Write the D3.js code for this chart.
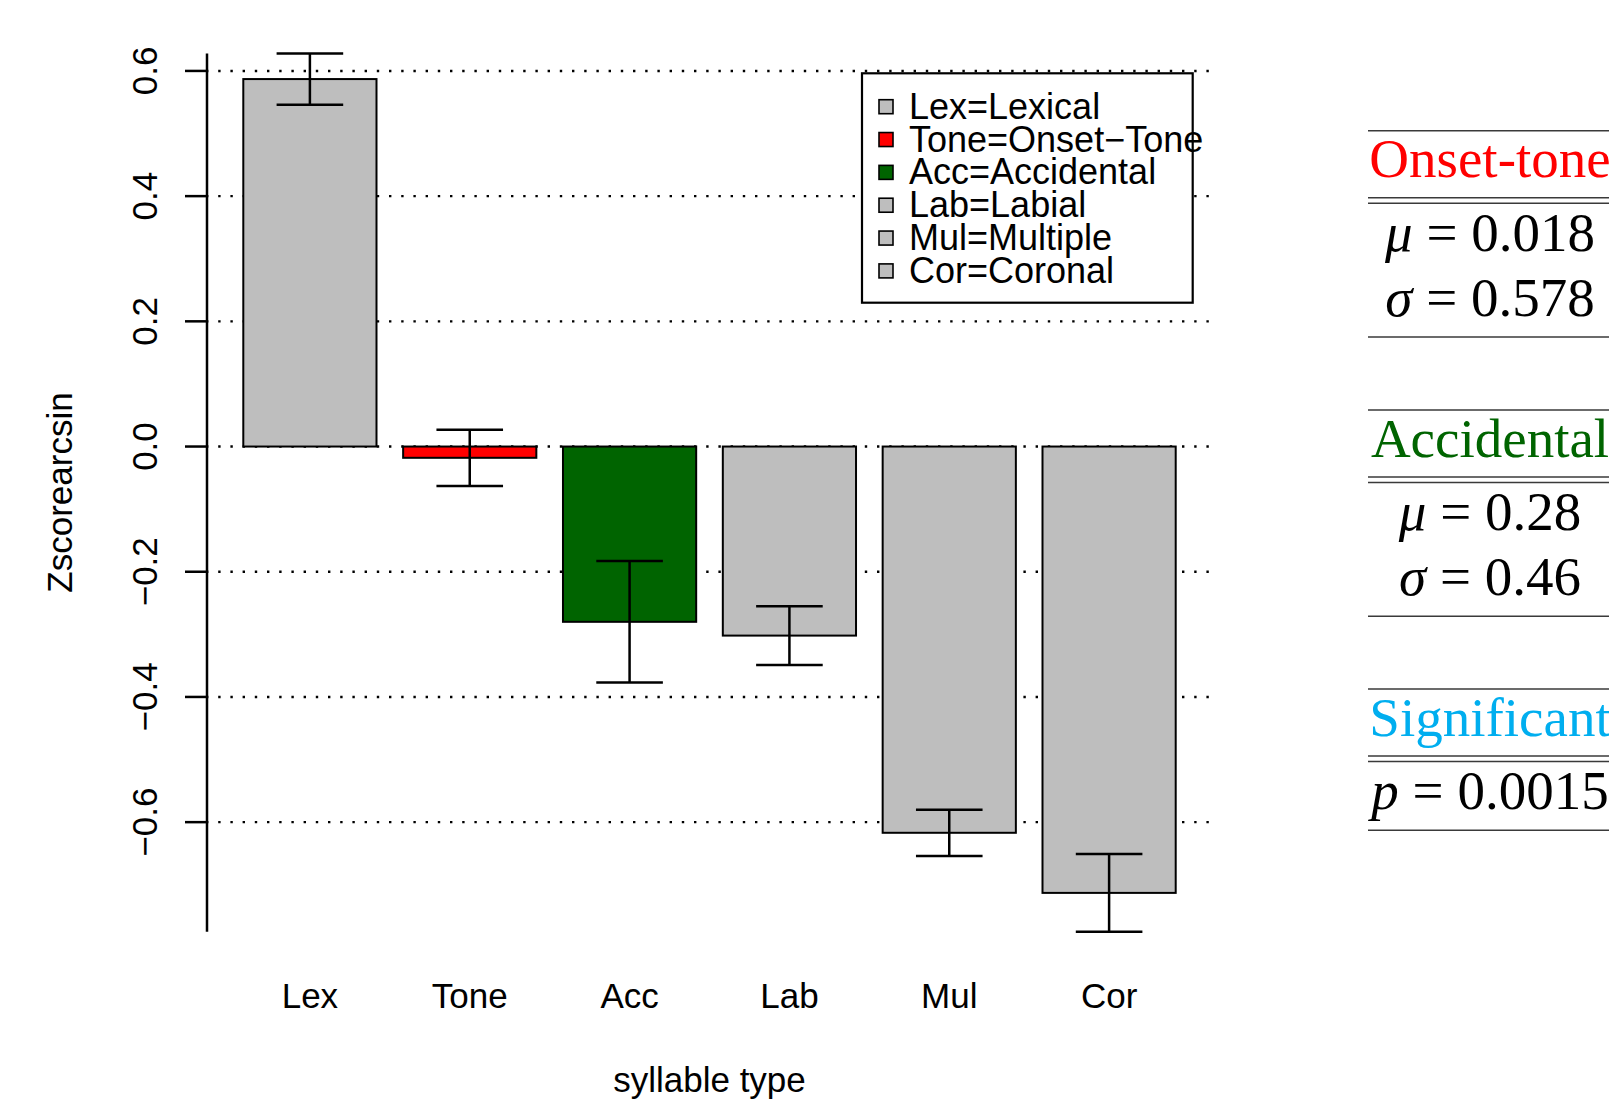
<!DOCTYPE html>
<html>
<head>
<meta charset="utf-8">
<script src="https://cdn.jsdelivr.net/npm/d3@7"></script>
<style>
  body { margin: 0; background: #ffffff; }
  svg { display: block; }
</style>
</head>
<body>
<svg id="chart" width="1609" height="1106"></svg>
<script>
// ---- data ----
const categories = ["Lex", "Tone", "Acc", "Lab", "Mul", "Cor"];
const means      = [0.587, -0.018, -0.280, -0.302, -0.617, -0.713];
const stdErrors  = [0.041, 0.045, 0.097, 0.047, 0.037, 0.062];
const barColors  = ["#bebebe", "#ff0000", "#006400", "#bebebe", "#bebebe", "#bebebe"];
const legendLabels = ["Lex=Lexical", "Tone=Onset\u2212Tone", "Acc=Accidental",
                      "Lab=Labial", "Mul=Multiple", "Cor=Coronal"];
const yTicks = [-0.6, -0.4, -0.2, 0.0, 0.2, 0.4, 0.6];
const gridValues = [-0.6, -0.4, -0.2, 0.0, 0.2, 0.4, 0.6];

// summary table beside the chart
const statTitles = ["Onset-tone", "Accidental", "Significant"];
const statColors = ["#ff0000", "#006400", "#00aeef"];
const statSymbols = [["\u03bc", "\u03c3"], ["\u03bc", "\u03c3"], ["p"]];
const statValues  = [["0.018", "0.578"], ["0.28", "0.46"], ["0.0015"]];

// ---- layout ----
const svg = d3.select("#chart");
const plotLeft = 206, plotRight = 1213, plotTop = 53.4, plotBottom = 931.7;
const sans = "'Liberation Sans', Arial, Helvetica, sans-serif";
const serif = "'Liberation Serif', 'Times New Roman', serif";

const lower = means.map((m, i) => m - stdErrors[i]);
const upper = means.map((m, i) => m + stdErrors[i]);

const x = d3.scaleBand()
  .domain(categories)
  .range([plotLeft, plotRight])
  .paddingInner(1 / 6)
  .paddingOuter(0.28 / 1.2)
  .align(0.5);

const y = d3.scaleLinear()
  .domain([d3.min(lower), d3.max(upper)])
  .range([plotBottom, plotTop]);

// dotted reference lines
svg.append("g").selectAll("line")
  .data(gridValues)
  .join("line")
  .attr("x1", plotLeft).attr("x2", plotRight)
  .attr("y1", d => y(d)).attr("y2", d => y(d))
  .attr("stroke", "#000").attr("stroke-width", 2.4)
  .attr("stroke-dasharray", "2.4 9.8");

// bars
const bars = categories.map((c, i) => ({ c, m: means[i], se: stdErrors[i], col: barColors[i] }));
svg.append("g").selectAll("rect")
  .data(bars)
  .join("rect")
  .attr("x", d => x(d.c))
  .attr("width", x.bandwidth())
  .attr("y", d => y(Math.max(0, d.m)))
  .attr("height", d => Math.abs(y(d.m) - y(0)))
  .attr("fill", d => d.col)
  .attr("stroke", "#000").attr("stroke-width", 2);

// error bars
const capHalf = x.bandwidth() / 4;
const eb = svg.append("g").attr("stroke", "#000").attr("stroke-width", 2.5);
bars.forEach(d => {
  const cx = x(d.c) + x.bandwidth() / 2;
  eb.append("line").attr("x1", cx).attr("x2", cx)
    .attr("y1", y(d.m + d.se)).attr("y2", y(d.m - d.se));
  [d.m + d.se, d.m - d.se].forEach(v => {
    eb.append("line").attr("x1", cx - capHalf).attr("x2", cx + capHalf)
      .attr("y1", y(v)).attr("y2", y(v));
  });
});

// y axis
const yAxis = svg.append("g");
yAxis.append("line")
  .attr("x1", plotLeft + 1).attr("x2", plotLeft + 1)
  .attr("y1", y.range()[1]).attr("y2", y.range()[0])
  .attr("stroke", "#000").attr("stroke-width", 2.5);
yAxis.selectAll("line.tick")
  .data(yTicks)
  .join("line").attr("class", "tick")
  .attr("x1", plotLeft - 21).attr("x2", plotLeft + 1)
  .attr("y1", d => y(d)).attr("y2", d => y(d))
  .attr("stroke", "#000").attr("stroke-width", 2.5);
yAxis.selectAll("text")
  .data(yTicks)
  .join("text")
  .attr("transform", d => `translate(157,${y(d)}) rotate(-90)`)
  .attr("text-anchor", "middle")
  .attr("font-family", sans).attr("font-size", 35)
  .text(d => d3.format(".1f")(d).replace("-", "\u2212"));

svg.append("text")
  .attr("transform", `translate(71.5,${(plotTop + plotBottom) / 2}) rotate(-90)`)
  .attr("text-anchor", "middle")
  .attr("font-family", sans).attr("font-size", 35)
  .text("Zscorearcsin");

// category labels
svg.append("g").selectAll("text")
  .data(categories)
  .join("text")
  .attr("x", d => x(d) + x.bandwidth() / 2)
  .attr("y", 1008)
  .attr("text-anchor", "middle")
  .attr("font-family", sans).attr("font-size", 35)
  .text(d => d);

svg.append("text")
  .attr("x", (plotLeft + plotRight) / 2).attr("y", 1092)
  .attr("text-anchor", "middle")
  .attr("font-family", sans).attr("font-size", 35)
  .text("syllable type");

// legend
const lg = svg.append("g");
lg.append("rect")
  .attr("x", 862).attr("y", 73.3).attr("width", 330.7).attr("height", 229.4)
  .attr("fill", "#fff").attr("stroke", "#000").attr("stroke-width", 2.2);
const legendRow = d3.scalePoint().domain(d3.range(legendLabels.length)).range([106.7, 270.9]);
lg.selectAll("rect.key")
  .data(legendLabels)
  .join("rect").attr("class", "key")
  .attr("x", 879).attr("y", (d, i) => legendRow(i) - 7)
  .attr("width", 14).attr("height", 14)
  .attr("fill", (d, i) => barColors[i])
  .attr("stroke", "#000").attr("stroke-width", 1.6);
lg.selectAll("text")
  .data(legendLabels)
  .join("text")
  .attr("x", 909).attr("y", (d, i) => legendRow(i) + 12)
  .attr("font-family", sans).attr("font-size", 36)
  .text(d => d);

// summary table
const tbl = svg.append("g");
const blockTops = [130.7, 410, 689];
const tx0 = 1368, tx1 = 1609, tcx = 1490;
const rule = yy => tbl.append("line").attr("x1", tx0).attr("x2", tx1)
  .attr("y1", yy).attr("y2", yy).attr("stroke", "#3a3a3a").attr("stroke-width", 1.6);
statTitles.forEach((title, b) => {
  const top = blockTops[b];
  rule(top);
  tbl.append("text")
    .attr("x", tcx).attr("y", top + 46.5)
    .attr("text-anchor", "middle")
    .attr("font-family", serif).attr("font-size", 55)
    .attr("fill", statColors[b])
    .text(title);
  rule(top + 67);
  rule(top + 72.5);
  let last = top + 72.5;
  statSymbols[b].forEach((sym, k) => {
    const base = top + 120 + 65 * k;
    const t = tbl.append("text")
      .attr("x", tcx).attr("y", base)
      .attr("text-anchor", "middle")
      .attr("font-family", serif).attr("font-size", 55)
      .attr("fill", "#000")
      .attr("xml:space", "preserve")
      .style("white-space", "pre");
    t.append("tspan").attr("font-style", "italic").text(sym);
    t.append("tspan").text(" = " + statValues[b][k]);
    last = base;
  });
  rule(last + 21.3);
});
</script>
</body>
</html>
